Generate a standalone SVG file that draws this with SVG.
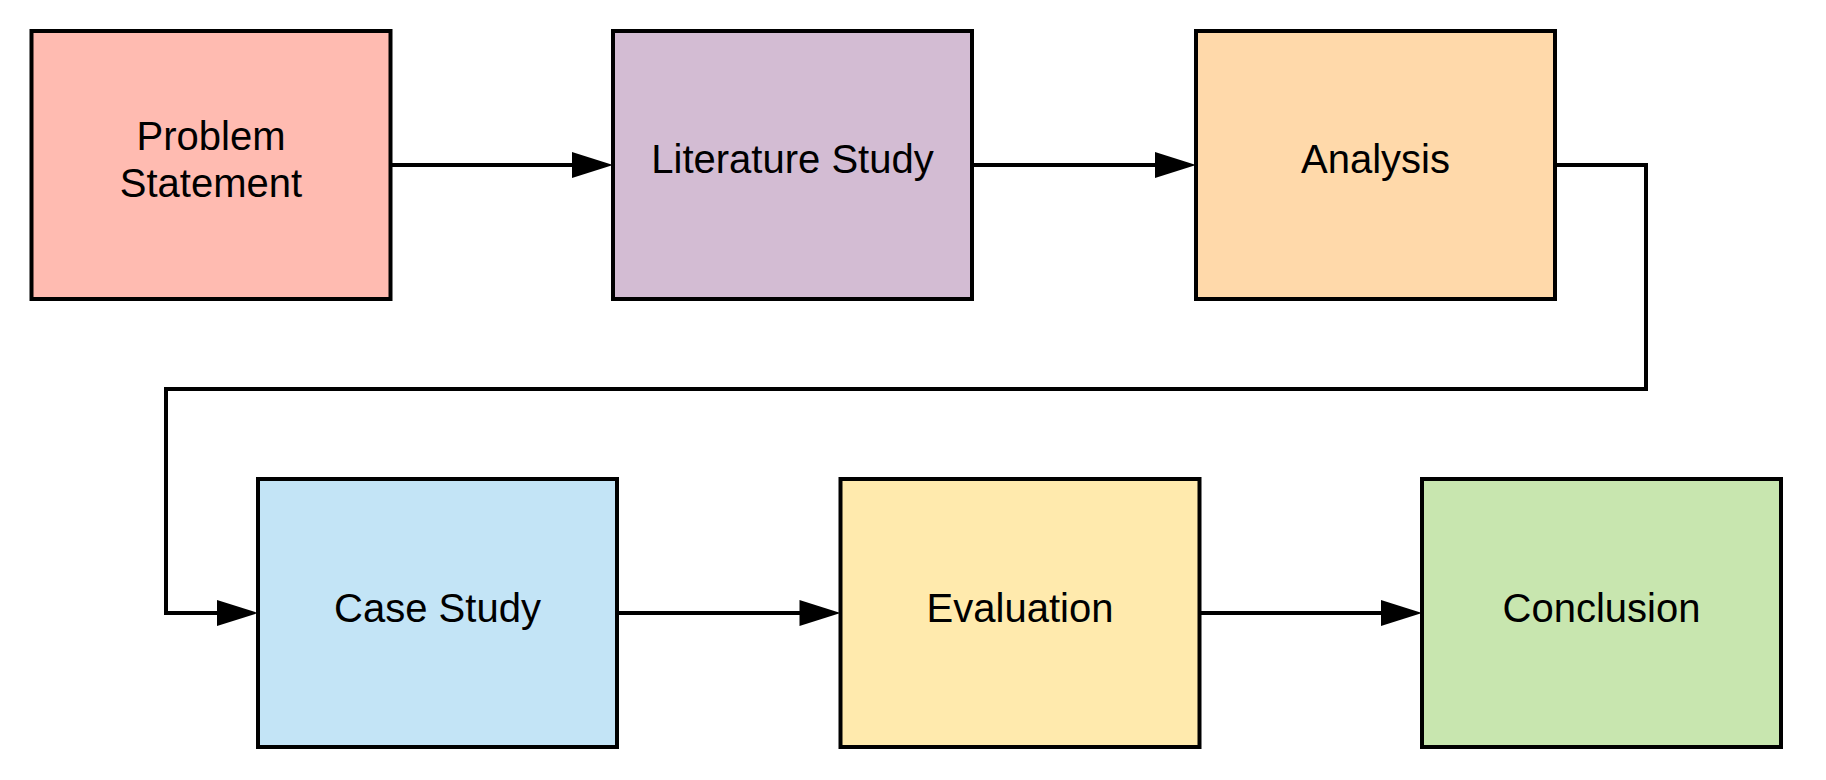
<svg xmlns="http://www.w3.org/2000/svg" width="1826" height="780" viewBox="0 0 1826 780">
  <style>
    .box { stroke: #000000; stroke-width: 4; }
    .lbl { font-family: "Liberation Sans", Arial, sans-serif; font-size: 40px; fill: #000000; text-anchor: middle; }
    .conn { fill: none; stroke: #000000; stroke-width: 4; }
  </style>
  <defs>
    <marker id="arrow" markerUnits="userSpaceOnUse" markerWidth="42" markerHeight="26" viewBox="0 0 41 26" refX="11" refY="13" orient="auto">
      <path d="M0,0 L41,13 L0,26 Z" fill="#000000"/>
    </marker>
  </defs>
  <rect width="1826" height="780" fill="#ffffff"/>

  <g id="connectors">
    <path class="conn" d="M391,165 H583" marker-end="url(#arrow)"/>
    <path class="conn" d="M972,165 H1166" marker-end="url(#arrow)"/>
    <path class="conn" d="M1555,165 H1646 V389 H166 V613 H228" marker-end="url(#arrow)"/>
    <path class="conn" d="M617,613 H810.5" marker-end="url(#arrow)"/>
    <path class="conn" d="M1199.5,613 H1392" marker-end="url(#arrow)"/>
  </g>

  <g id="problem-statement">
    <rect class="box" x="31.5" y="31" width="359" height="268" fill="#FFBBB1"/>
    <text class="lbl" x="211" y="150">Problem</text>
    <text class="lbl" x="211" y="196.5">Statement</text>
  </g>
  <g id="literature-study">
    <rect class="box" x="613" y="31" width="359" height="268" fill="#D3BCD3"/>
    <text class="lbl" x="792.5" y="173.3">Literature Study</text>
  </g>
  <g id="analysis">
    <rect class="box" x="1196" y="31" width="359" height="268" fill="#FFD9AA"/>
    <text class="lbl" x="1375.5" y="173.3">Analysis</text>
  </g>
  <g id="case-study">
    <rect class="box" x="258" y="479" width="359" height="268" fill="#C3E4F6"/>
    <text class="lbl" x="437.5" y="621.5">Case Study</text>
  </g>
  <g id="evaluation">
    <rect class="box" x="840.5" y="479" width="359" height="268" fill="#FFEAAD"/>
    <text class="lbl" x="1020" y="621.5">Evaluation</text>
  </g>
  <g id="conclusion">
    <rect class="box" x="1422" y="479" width="359" height="268" fill="#C8E6AF"/>
    <text class="lbl" x="1601.5" y="621.5">Conclusion</text>
  </g>
</svg>
